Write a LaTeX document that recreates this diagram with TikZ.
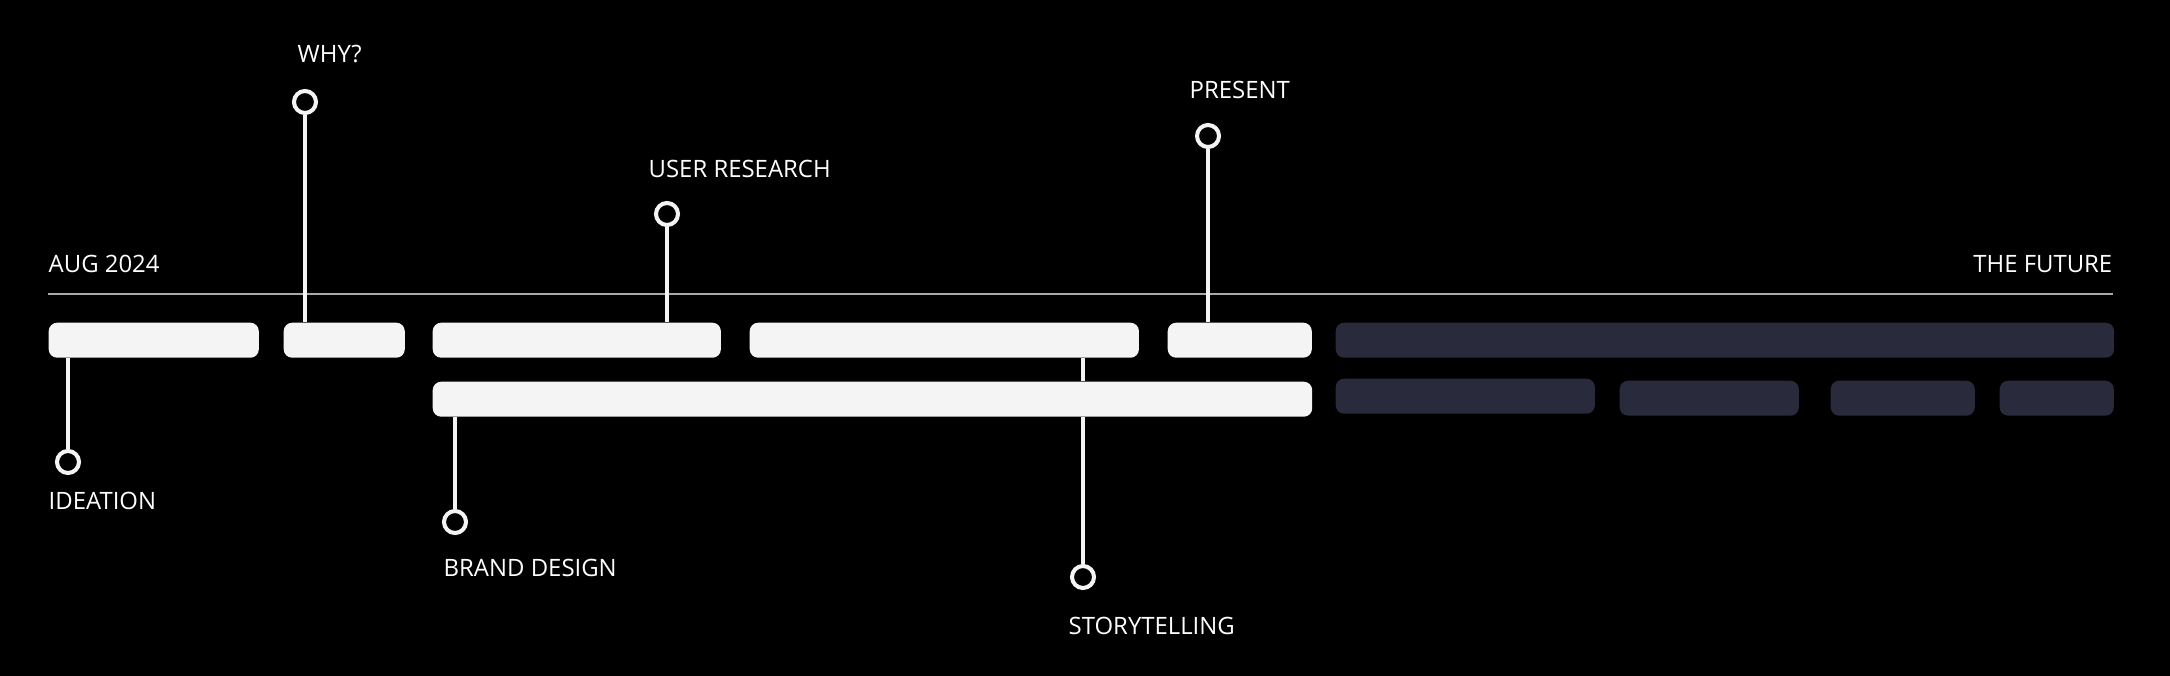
\documentclass[tikz,border=0pt]{standalone}
\usepackage{fontspec}
\setmainfont{Open Sans}
\usepackage{tikz}
\usetikzlibrary{positioning}

\definecolor{barlight}{HTML}{F4F4F4}
\definecolor{bardark}{HTML}{292A3B}
\definecolor{rulegray}{HTML}{A8A8A8}

\begin{document}
\begin{tikzpicture}[x=0.01cm,y=-0.01cm,
    bar/.style={rectangle,rounded corners=2.4pt,inner sep=0pt,anchor=north west,fill=barlight,minimum height=0.35cm},
    futurebar/.style={bar,fill=bardark},
    pin/.style={circle,draw=barlight,fill=black,line width=1.15pt,inner sep=0pt,minimum size=0.22cm},
    stick/.style={draw=barlight,line width=1.15pt},
    lbl/.style={text=white,inner sep=0pt,font=\fontsize{6.8}{8}\selectfont}]
    \fill[black] (0,0) rectangle (2170,676);

    % time axis
    \node[lbl,anchor=base west] (start) at (48,272) {AUG 2024};
    \node[lbl,anchor=base east] (future) at (2113,272) {THE FUTURE};
    \coordinate (axisL) at (48,294);
    \coordinate (axisR) at (2113,294);
    \draw[rulegray,line width=0.6pt] (axisL) -- (axisR);

    % pins
    \node[pin] (ideaPin) at (68,462) {};
    \node[pin] (whyPin) at (305,102) {};
    \node[pin] (userPin) at (667,214) {};
    \node[pin] (presPin) at (1208,136) {};
    \node[pin] (brandPin) at (455,522) {};
    \node[pin] (storyPin) at (1083,577) {};

    % bars, first row
    \node[bar,minimum width=2.10cm] (ideation) at (48,322) {};
    \node[bar,minimum width=1.21cm] (why) at (283,322) {};
    \node[bar,minimum width=2.88cm] (research) at (432,322) {};
    \node[bar,minimum width=3.89cm] (story) at (749,322) {};
    \node[bar,minimum width=1.44cm] (present) at (1167,322) {};
    \node[futurebar,minimum width=7.78cm] (fut1) at (1335,322) {};

    % bars, second row
    \node[bar,minimum width=8.79cm] (brand) at (432,381) {};
    \node[futurebar,minimum width=2.59cm] (fut2) at (1335,378) {};
    \node[futurebar,minimum width=1.79cm] (fut3) at (1619,380) {};
    \node[futurebar,minimum width=1.44cm] (fut4) at (1830,380) {};
    \node[futurebar,minimum width=1.14cm] (fut5) at (1999,380) {};

    % sticks
    \draw[stick] (whyPin) -- (whyPin |- why.north);
    \draw[stick] (userPin) -- (userPin |- research.north);
    \draw[stick] (presPin) -- (presPin |- present.north);
    \draw[stick] (ideaPin) -- (ideaPin |- ideation.south);
    \draw[stick] (brandPin) -- (brandPin |- brand.south);
    \draw[stick] (storyPin) -- (storyPin |- brand.south);
    \draw[stick] (storyPin |- story.south) -- (storyPin |- brand.north);

    % labels
    \node[lbl,anchor=base west] (whyTxt) at (297,63) {WHY?};
    \node[lbl,anchor=base west] (userTxt) at (648,178) {USER RESEARCH};
    \node[lbl,anchor=base west] (presTxt) at (1189,99) {PRESENT};
    \node[lbl,anchor=base west] (ideaTxt) at (48,509) {IDEATION};
    \node[lbl,anchor=base west] (brandTxt) at (443,576) {BRAND DESIGN};
    \node[lbl,anchor=base west] (storyTxt) at (1068,634) {STORYTELLING};
\end{tikzpicture}
\end{document}
